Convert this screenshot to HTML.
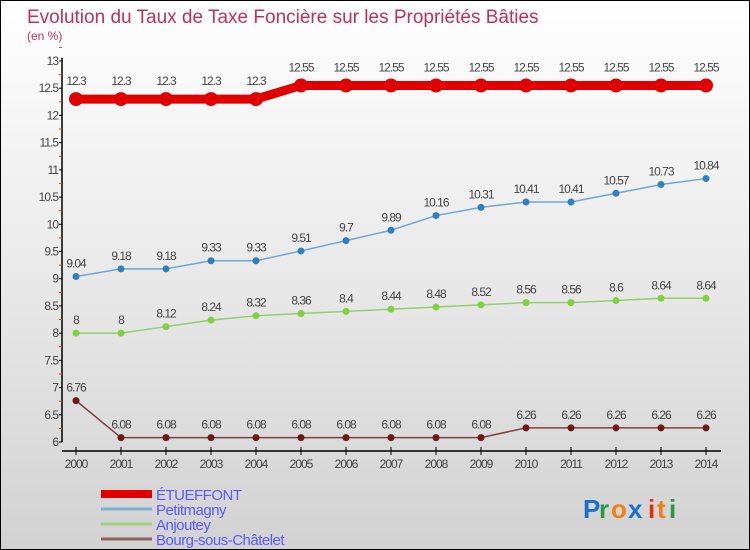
<!DOCTYPE html>
<html><head><meta charset="utf-8"><style>
body{margin:0;}
#wrap{width:748px;height:548px;border:1px solid #000;background:linear-gradient(#ffffff 0%,#f0f0f0 35%,#d2d2d2 100%);position:relative;overflow:hidden;font-family:"Liberation Sans",sans-serif;}
svg text{font-family:"Liberation Sans",sans-serif;}
</style></head><body>
<div id="wrap">
<svg id="chart" width="748" height="548">
<text x="26" y="22" font-size="19" fill="#c0305a">Evolution du Taux de Taxe Foncière sur les Propriétés Bâties</text>
<text x="26" y="39" font-size="12" fill="#c0305a">(en %)</text>
<g id="axes"></g><g id="series"></g><g id="legend"></g>
<g font-size="26" font-weight="bold">
<text x="582" y="517" fill="#1a6fd0">P</text><text x="598" y="517" fill="#2a9a40">r</text><text x="610" y="517" fill="#f08010">o</text><text x="627" y="517" fill="#1a6fd0">x</text><text x="647" y="517" fill="#e03010">i</text><text x="656" y="517" fill="#f08010">t</text><text x="668" y="517" fill="#2a9a40">i</text>
</g>
</svg></div>
<script>
const years=[2000,2001,2002,2003,2004,2005,2006,2007,2008,2009,2010,2011,2012,2013,2014];
const etueffont=[12.3,12.3,12.3,12.3,12.3,12.55,12.55,12.55,12.55,12.55,12.55,12.55,12.55,12.55,12.55];
const petitmagny=[9.04,9.18,9.18,9.33,9.33,9.51,9.7,9.89,10.16,10.31,10.41,10.41,10.57,10.73,10.84];
const anjoutey=[8,8,8.12,8.24,8.32,8.36,8.4,8.44,8.48,8.52,8.56,8.56,8.6,8.64,8.64];
const bourg=[6.76,6.08,6.08,6.08,6.08,6.08,6.08,6.08,6.08,6.08,6.26,6.26,6.26,6.26,6.26];
const yTicks=[6,6.5,7,7.5,8,8.5,9,9.5,10,10.5,11,11.5,12,12.5,13];
const seriesNames=["ÉTUEFFONT","Petitmagny","Anjoutey","Bourg-sous-Châtelet"];
const NS="http://www.w3.org/2000/svg";
const x=i=>75+i*45;
const y=v=>441-(v-6)*54.43;
function mk(tag,attrs,parent){const e=document.createElementNS(NS,tag);for(const k in attrs)e.setAttribute(k,attrs[k]);parent.appendChild(e);return e;}
const ax=document.getElementById('axes');
const yl=mk('line',{x1:61,y1:57,x2:61,y2:441,stroke:'#000','stroke-width':1.5},ax);


yTicks.forEach(t=>{
 mk('line',{x1:58,x2:61,y1:y(t),y2:y(t),stroke:'#000'},ax);
 mk('line',{x1:58,x2:61,y1:y(t+0.25),y2:y(t+0.25),stroke:'#f03030'},ax);
 const tx=mk('text',{x:57,y:y(t)+4,'text-anchor':'end','font-size':12,fill:'#444','letter-spacing':'-1'},ax);
 tx.textContent=t;
 
 
});
const xl=mk('line',{x1:61,y1:450,x2:720,y2:450,stroke:'#000','stroke-width':1.5},ax);


years.forEach((yr,i)=>{
 mk('line',{x1:x(i),x2:x(i),y1:446,y2:454,stroke:'#000'},ax);
 const tx=mk('text',{x:x(i),y:467,'text-anchor':'middle','font-size':12,fill:'#444','letter-spacing':'-1'},ax);
 tx.textContent=yr;
 
 
});
const sg=document.getElementById('series');
const defs=[[etueffont,'#e00000',9,7,'etueffont'],[petitmagny,'#70a8d0',1.5,3.5,'petitmagny'],[anjoutey,'#90d070',1.5,3.5,'anjoutey'],[bourg,'#804040',1.5,3.5,'bourg-sous-chatelet']];
const dotCol=['#e00000','#3080c0','#80d040','#701818'];
defs.forEach((d,si)=>{
 const [vals,col,w,r,nm]=d;
 const pl=mk('polyline',{points:vals.map((v,i)=>x(i)+','+y(v)).join(' '),fill:'none',stroke:col,'stroke-width':w},sg);
 
 
 vals.forEach((v,i)=>{
  const c=mk('circle',{cx:x(i),cy:y(v),r:r,fill:dotCol[si]},sg);
  
  
  const t=mk('text',{x:x(i),y:y(v)-(si==0?14:9),'text-anchor':'middle','font-size':12,fill:'#444','letter-spacing':'-1'},sg);
  t.textContent=v;
  
  
 });
});
const lg=document.getElementById('legend');
const lcol=['#e00000','#80b0d0','#a0d080','#906060'];const lw=[8,3,3,3];
seriesNames.forEach((n,i)=>{
 const g=mk('g',{},lg);
 
 
 const yy=493+i*15;
 mk('line',{x1:100,x2:151,y1:yy,y2:yy,stroke:lcol[i],'stroke-width':lw[i]},g);
 const t=mk('text',{x:155,y:yy+6,'font-size':15,fill:'#5a5aff','letter-spacing':'-0.5'},g);
 t.textContent=n;
});
</script>
</body></html>
